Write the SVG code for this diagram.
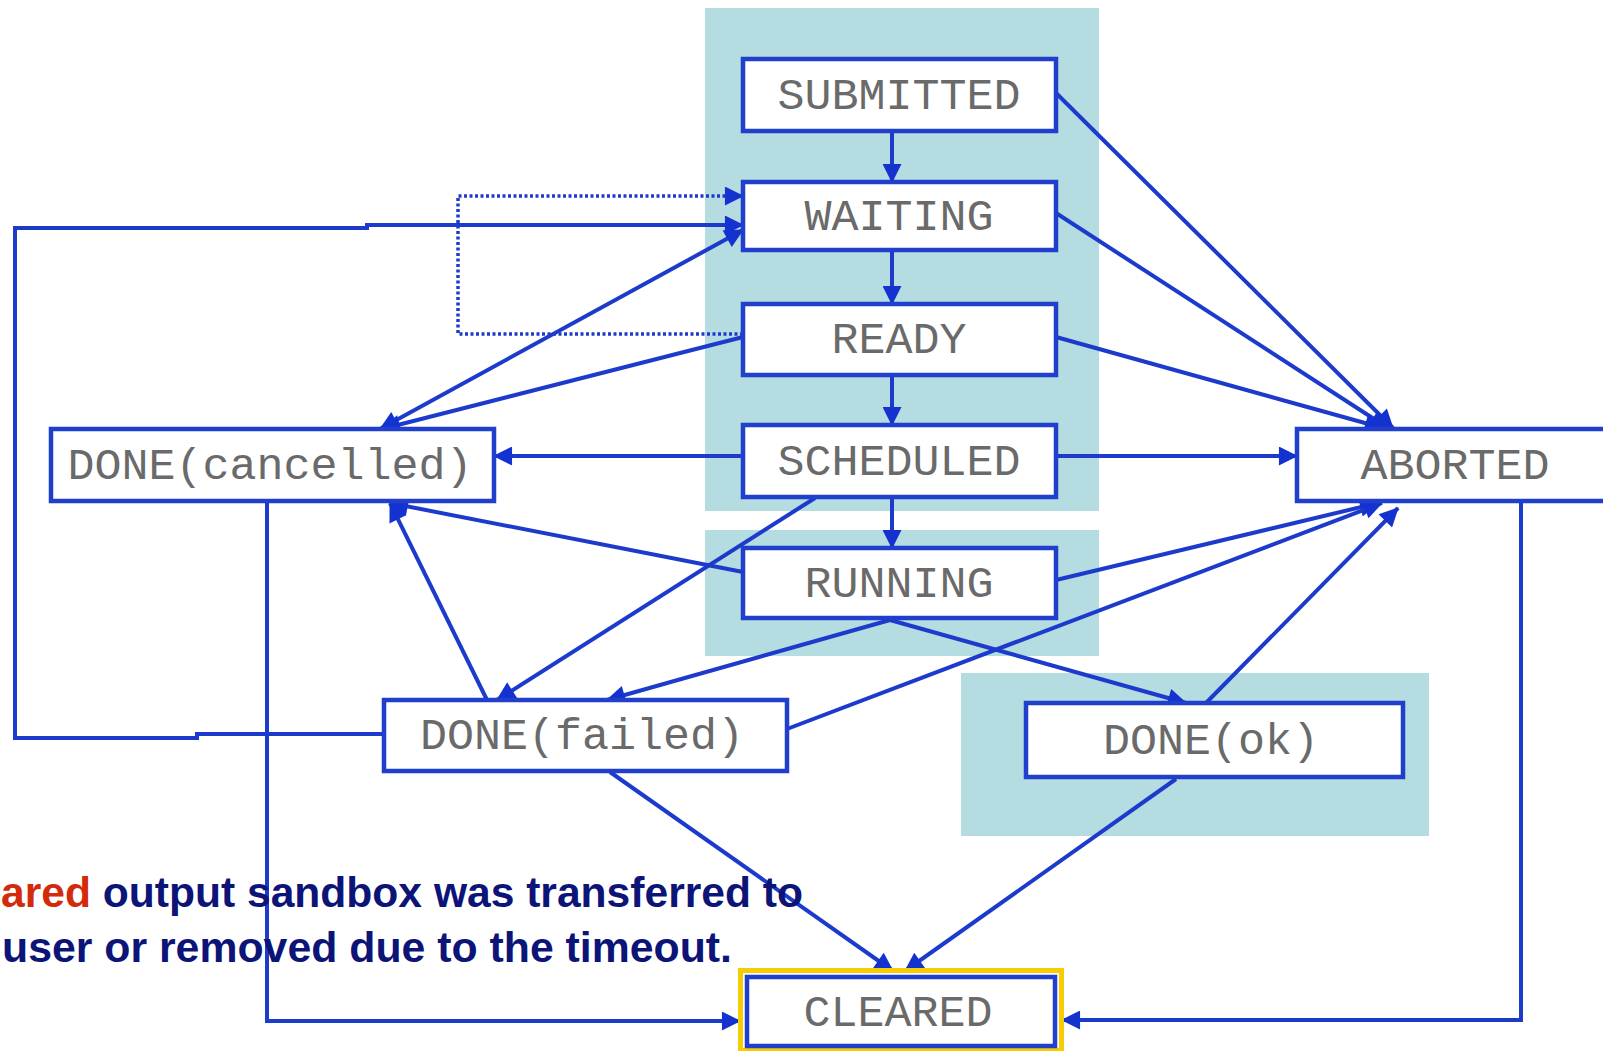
<svg xmlns="http://www.w3.org/2000/svg" width="1603" height="1051" viewBox="0 0 1603 1051">
  <style>
    .panel { fill: #b5dce0; }
    .box { fill: #ffffff; stroke: #1f3fcc; stroke-width: 4.5; }
    .lbl { font-family: "Liberation Mono", "Courier New", monospace; font-size: 45px; fill: #6a6a6a; text-anchor: middle; }
    .edge { fill: none; stroke: #1c3bcc; stroke-width: 4; marker-end: url(#arrow); }
    .dotted { stroke-dasharray: 3 2.5; stroke-width: 3.5; }
    .note { font-family: "Liberation Sans", Arial, sans-serif; font-size: 43px; font-weight: bold; fill: #0c1477; }
    .hl { fill: #d42a0c; }
  </style>
  <defs>
    <marker id="arrow" viewBox="0 0 10 10" refX="9.5" refY="5" markerUnits="userSpaceOnUse" markerWidth="24" markerHeight="19" orient="auto-start-reverse">
      <path d="M0,0 L10,5 L0,10 z" fill="#1432d0"/>
    </marker>
  </defs>

  <rect width="1603" height="1051" fill="#ffffff"/>

  <!-- shaded state areas -->
  <g id="panels">
    <rect class="panel" x="705" y="8" width="394" height="503"/>
    <rect class="panel" x="705" y="530" width="394" height="126"/>
    <rect class="panel" x="961" y="673" width="468" height="163"/>
  </g>

  <!-- transitions -->
  <g id="connectors">
    <path class="edge" d="M892,131 V182"/>
    <path class="edge" d="M892,250 V304"/>
    <path class="edge" d="M892,375 V425"/>
    <path class="edge" d="M892,497 V548"/>
    <path class="edge" d="M1056,93 L1393,428"/>
    <path class="edge" d="M1056,213 L1388,428"/>
    <path class="edge" d="M1056,337 L1383,428"/>
    <path class="edge" d="M1056,456 H1297"/>
    <path class="edge" d="M743,456 H494"/>
    <path class="edge" d="M380,429 L743,230" style="marker-start:url(#arrow)"/>
    <path class="edge" d="M743,337 L382,429"/>
    <path class="edge dotted" d="M743,334 H458 V196 H743"/>
    <path class="edge" d="M384,734 H197 V738 H15 V228 H367 V225 H743"/>
    <path class="edge" d="M743,572 L390,503"/>
    <path class="edge" d="M487,700 L390,503"/>
    <path class="edge" d="M815,498 L497,700"/>
    <path class="edge" d="M890,620 L607,700"/>
    <path class="edge" d="M890,620 L1186,703"/>
    <path class="edge" d="M1056,580 L1378,503"/>
    <path class="edge" d="M787,729 L1382,503"/>
    <path class="edge" d="M1206,703 L1398,508"/>
    <path class="edge" d="M1521,501 V1020 H1062"/>
    <path class="edge" d="M267,501 V1021 H740"/>
    <path class="edge" d="M610,772 L893,971"/>
    <path class="edge" d="M1176,779 L905,971"/>
  </g>

  <!-- states -->
  <g id="submitted">
    <rect class="box" x="743" y="59" width="313" height="72"/>
    <text class="lbl" x="899" y="109">SUBMITTED</text>
  </g>
  <g id="waiting">
    <rect class="box" x="743" y="182" width="313" height="68"/>
    <text class="lbl" x="899" y="230">WAITING</text>
  </g>
  <g id="ready">
    <rect class="box" x="743" y="304" width="313" height="71"/>
    <text class="lbl" x="899" y="353">READY</text>
  </g>
  <g id="scheduled">
    <rect class="box" x="743" y="425" width="313" height="72"/>
    <text class="lbl" x="899" y="475">SCHEDULED</text>
  </g>
  <g id="running">
    <rect class="box" x="743" y="548" width="313" height="70"/>
    <text class="lbl" x="899" y="597">RUNNING</text>
  </g>
  <g id="done-cancelled">
    <rect class="box" x="51" y="429" width="443" height="72"/>
    <text class="lbl" x="270" y="479">DONE(cancelled)</text>
  </g>
  <g id="aborted">
    <rect class="box" x="1297" y="429" width="322" height="72"/>
    <text class="lbl" x="1455" y="479">ABORTED</text>
  </g>
  <g id="done-failed">
    <rect class="box" x="384" y="700" width="403" height="71"/>
    <text class="lbl" x="582" y="749">DONE(failed)</text>
  </g>
  <g id="done-ok">
    <rect class="box" x="1026" y="703" width="377" height="74"/>
    <text class="lbl" x="1211" y="754">DONE(ok)</text>
  </g>
  <g id="cleared">
    <rect x="740.5" y="970.5" width="321" height="80" fill="none" stroke="#f7cc00" stroke-width="5"/>
    <rect class="box" x="747" y="977" width="308" height="69" stroke-width="3.5"/>
    <text class="lbl" x="898" y="1026">CLEARED</text>
  </g>

  <!-- caption -->
  <g id="caption">
    <text class="note" x="1" y="907" textLength="802" lengthAdjust="spacingAndGlyphs"><tspan class="hl">ared</tspan> output sandbox was transferred to</text>
    <text class="note" x="2" y="962" textLength="730" lengthAdjust="spacingAndGlyphs">user or removed due to the timeout.</text>
  </g>
</svg>
